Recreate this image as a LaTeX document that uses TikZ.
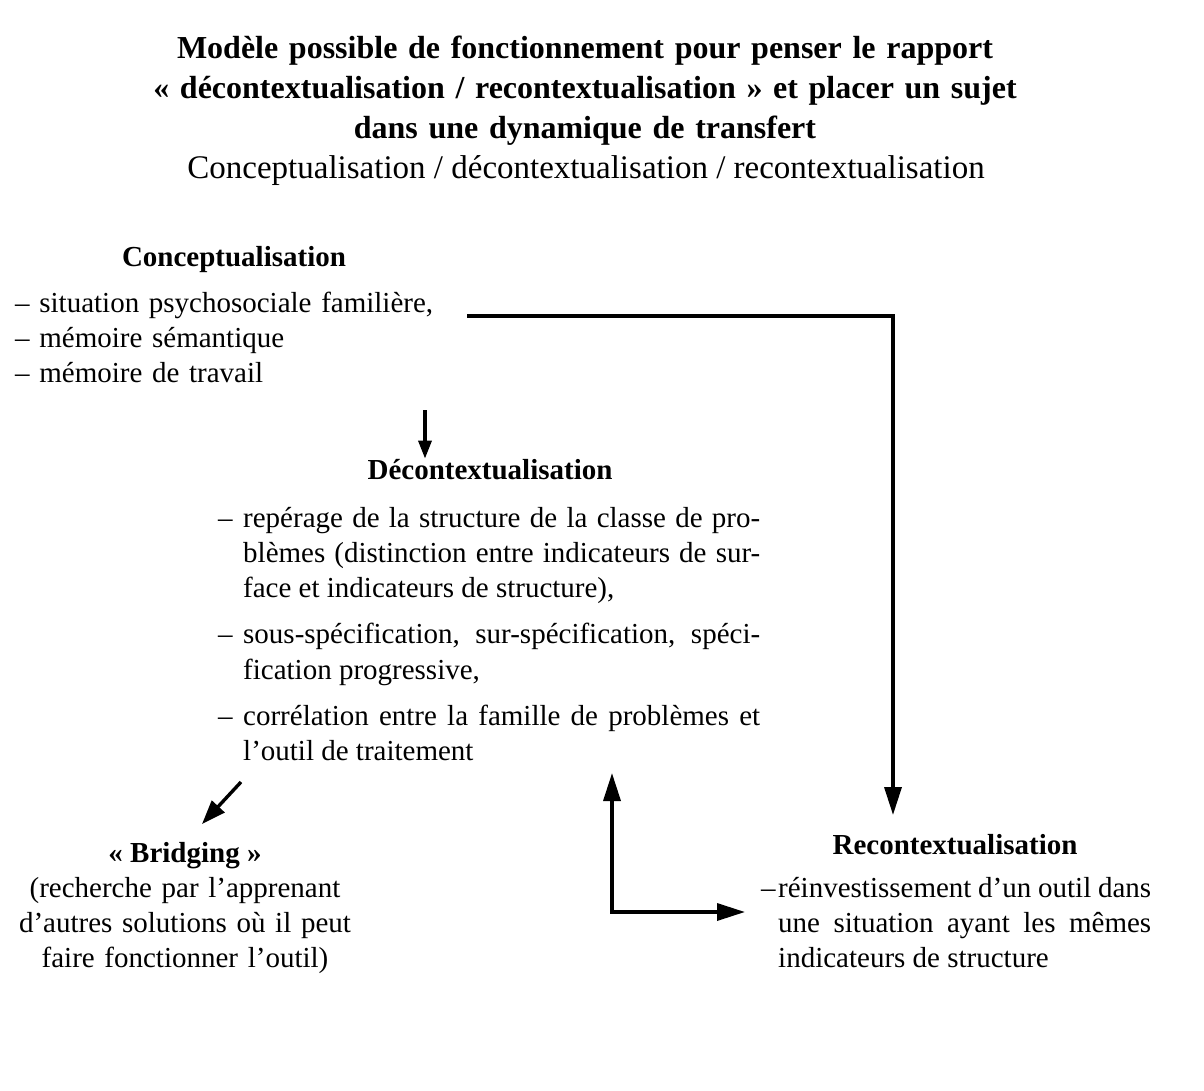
\documentclass[tikz,border=0pt]{standalone}
\usepackage{fontspec}
\setmainfont{Liberation Serif}
\usetikzlibrary{arrows.meta}

\begin{document}
\begin{tikzpicture}[x=1pt,y=-1pt,
	titre/.style={font=\fontsize{33}{40}\selectfont, inner sep=0pt, anchor=base},
	txt/.style={font=\fontsize{29}{35.3}\selectfont, inner sep=0pt, anchor=base},
	tete/.style={txt, font=\fontsize{29}{35.3}\selectfont\bfseries},
	fleche/.style={line width=3.4pt, -{Triangle[length=28pt,width=17pt]}},
	petite/.style={line width=3.4pt, -{Triangle[length=18pt,width=13pt]}}]
	\useasboundingbox (0,0) rectangle (1204,1091);
	\node[titre, font=\fontsize{32}{40}\selectfont\bfseries, text width=1000pt, align=center] (titre) at (585,59)
	   {Modèle possible de fonctionnement pour penser le rapport\\
	    « décontextualisation / recontextualisation » et placer un sujet\\
	    dans une dynamique de transfert};
	\node[titre] (soustitre) at (586,179) {Conceptualisation / décontextualisation / recontextualisation};
	\node[tete] (conc) at (234,266) {Conceptualisation};
	\node[txt, anchor=base west, text width=500pt, align=left] (conclist) at (15,312)
	   {– situation psychosociale familière,\\ – mémoire sémantique\\ – mémoire de travail};
	\node[tete] (decon) at (490,479) {Décontextualisation};
	\node[txt, anchor=base west, text width=542pt, align=justify] (deconlist) at (218,527)
	   {\parskip=11pt
	    \hangindent=25pt\hangafter=1\makebox[25pt][l]{–}repérage de la structure de la classe de pro-\linebreak blèmes (distinction entre indicateurs de sur-\linebreak face et indicateurs de structure),\par
	    \hangindent=25pt\hangafter=1\makebox[25pt][l]{–}sous-spécification, sur-spécification, spéci-\linebreak fication progressive,\par
	    \hangindent=25pt\hangafter=1\makebox[25pt][l]{–}corrélation entre la famille de problèmes et\linebreak l'outil de traitement\par};
	\node[tete] (bridg) at (185,862) {« Bridging »};
	\node[txt, text width=400pt, align=center] (bridgtxt) at (185,897)
	   {(recherche par l'apprenant\\ d'autres solutions où il peut\\ faire fonctionner l'outil)};
	\node[tete] (recon) at (955,854) {Recontextualisation};
	\node[txt, anchor=base west, text width=390pt, align=justify] (reconlist) at (761,897)
	   {\hangindent=17pt\hangafter=1\makebox[17pt][l]{–}réinvestissement d'un outil dans\linebreak une situation ayant les mêmes\linebreak indicateurs de structure\par};
	\coordinate (depart) at (467,316);
	\coordinate (coin) at (893,316);
	\coordinate (arrivee) at (893,815);
	\draw[fleche] (depart) -- (coin) -- (arrivee);
	\draw[petite] (425,410) -- (decon.north -| 425,0);
	\coordinate (diaga) at (241,782);
	\coordinate (diagb) at (202,824);
	\draw[fleche, -{Triangle[length=24pt,width=17pt]}] (diaga) -- (diagb);
	\coordinate (haut) at (612,773);
	\coordinate (droite) at (745,912);
	\draw[fleche, {Triangle[length=28pt,width=17pt]}-{Triangle[length=28pt,width=17pt]}] (haut) |- (droite);
\end{tikzpicture}
\end{document}
